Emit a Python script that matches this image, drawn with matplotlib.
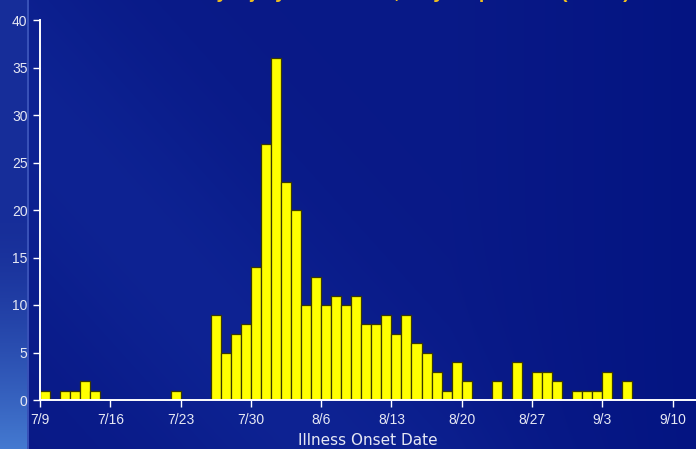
import numpy as np
import pandas as pd
import matplotlib
matplotlib.use("Agg")
import matplotlib.pyplot as plt
import matplotlib.dates as mdates

# Daily case counts by illness onset date, 7/9 through 9/5
start_date = "2005-07-09"
daily_cases = [
    1, 0, 1, 1, 2, 1, 0, 0, 0, 0, 0, 0, 0, 1, 0, 0, 0,
    9, 5, 7, 8, 14, 27, 36, 23, 20, 10, 13, 10, 11, 10, 11,
    8, 8, 9, 7, 9, 6, 5, 3, 1, 4, 2, 0, 0, 2, 0, 4, 0,
    3, 3, 2, 0, 1, 1, 1, 3, 0, 2,
]
tick_dates = ["2005-07-09", "2005-07-16", "2005-07-23", "2005-07-30",
              "2005-08-06", "2005-08-13", "2005-08-20", "2005-08-27",
              "2005-09-03", "2005-09-10"]
tick_labels = ["7/9", "7/16", "7/23", "7/30", "8/6", "8/13", "8/20",
               "8/27", "9/3", "9/10"]
y_ticks = [0, 5, 10, 15, 20, 25, 30, 35, 40]

dates = pd.date_range(start_date, periods=len(daily_cases), freq="D")

W, H = 696, 449
fig = plt.figure(figsize=(W / 100, H / 100), dpi=100)

# Slide-style blue background with a soft diagonal sheen and a lighter left strip
bg_ax = fig.add_axes([0, 0, 1, 1])
yy, xx = np.mgrid[0:H, 0:W]
base = np.array([0.035, 0.10, 0.53])
img = np.ones((H, W, 3)) * base
diag = (xx + (H - yy) * 0.9)
sheen = np.exp(-((diag - 330) / 170.0) ** 2) * 0.045
img += sheen[..., None] * np.array([0.4, 0.8, 1.0])
right_dark = np.clip((xx - 450) / 250.0, 0, 1) * 0.02
img -= right_dark[..., None]
strip = xx < 28
strip_col = np.array([0.09, 0.18, 0.60])
glow = np.clip((yy - 220) / 229.0, 0, 1) ** 1.5
strip_img = strip_col + glow[..., None] * np.array([0.18, 0.30, 0.22])
img[strip] = strip_img[strip]
img[:, 27:29] = np.array([0.22, 0.32, 0.72])
img = np.clip(img, 0, 1)
bg_ax.imshow(img, aspect="auto", extent=[0, W, H, 0])
bg_ax.set_axis_off()

ax = fig.add_axes([40 / W, 1 - 400 / H, 1 - 40 / W, 380 / H])
ax.patch.set_alpha(0)

ax.bar(dates, daily_cases, width=1.0, align="edge",
       color="#ffff00", edgecolor="#3a3a00", linewidth=0.9, zorder=3)

x0 = mdates.date2num(pd.Timestamp(start_date))
ax.set_xlim(x0, x0 + (W - 40) / 10.04)
ax.set_ylim(0, 40)

ax.set_xticks([mdates.date2num(pd.Timestamp(d)) for d in tick_dates])
ax.set_xticklabels(tick_labels)
ax.set_yticks(y_ticks)

for side in ("top", "right"):
    ax.spines[side].set_visible(False)
for side in ("left", "bottom"):
    ax.spines[side].set_color("white")
    ax.spines[side].set_linewidth(1.4)
    ax.spines[side].set_zorder(4)

ax.tick_params(axis="both", colors="white", direction="out", length=5,
               width=1, labelcolor="#e6e8f4", labelsize=10)
for lab in ax.get_xticklabels() + ax.get_yticklabels():
    lab.set_fontfamily("Liberation Sans")
ax.tick_params(axis="x", pad=4)
ax.tick_params(axis="y", pad=4)

ax.set_xlabel("Illness Onset Date", color="#e6e8f4", fontsize=11,
              family="DejaVu Sans", labelpad=5)

fig.text(0.49, 1.014, "Cases of Illness by Injury Onset Date, July–September (n=305)",
         color="#f0c020", fontsize=14, fontweight="bold", ha="center", va="center",
         family="Liberation Sans")

fig.savefig("out.png", dpi=100)
